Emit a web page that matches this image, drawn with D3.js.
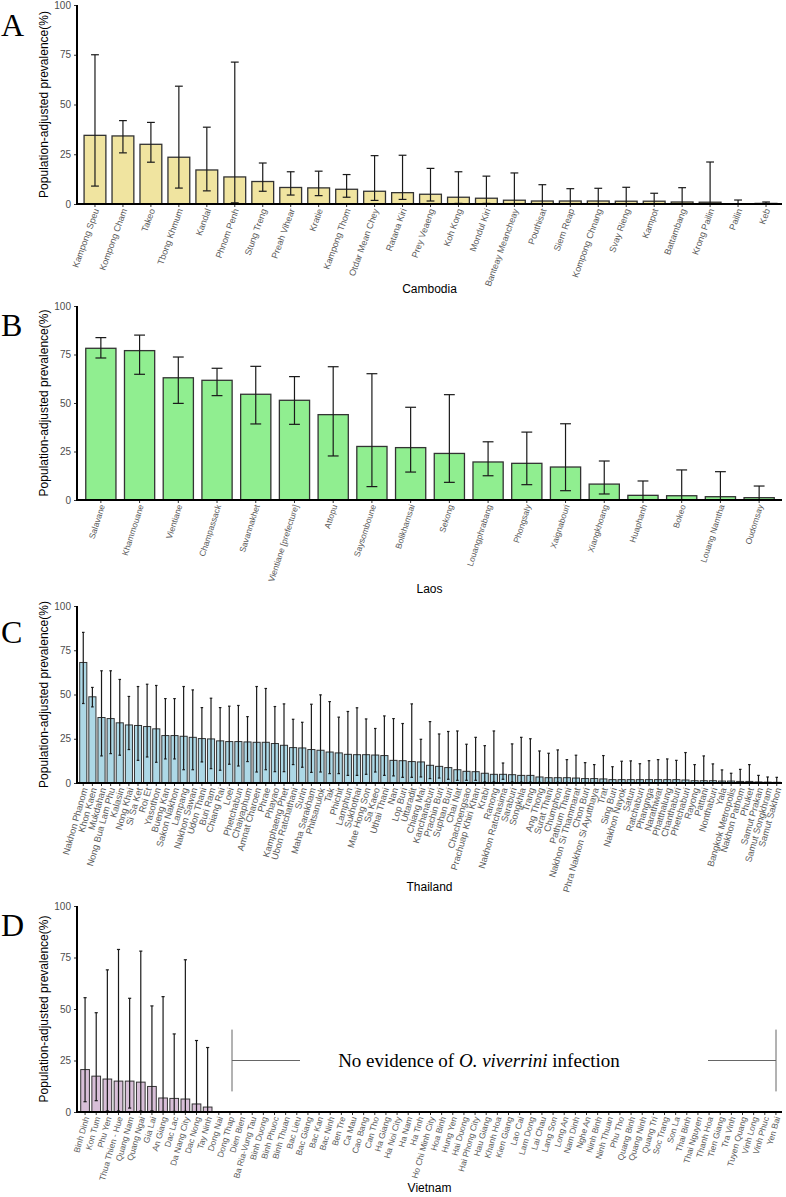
<!DOCTYPE html>
<html>
<head>
<meta charset="utf-8">
<script src="https://cdn.jsdelivr.net/npm/d3@7"></script>
<style>
  html, body { margin: 0; padding: 0; background: #fff; }
  svg { display: block; }
</style>
</head>
<body>
<svg id="chart" width="786" height="1197"></svg>
<script>
// ---------------- DATA ----------------
const yTicks = [0, 25, 50, 75, 100];

const cambodiaProvinces = ["Kampong Speu","Kompong Cham","Takeo","Tbong Khmum","Kandal","Phnom Penh","Stung Treng","Preah Vihear","Kratie","Kampong Thom","Otdar Mean Chey","Ratana Kiri","Prey Veaeng","Koh Kong","Mondul Kiri","Banteay Meancheay","Pouthisat","Siem Reap","Kompong Chnang","Svay Rieng","Kampot","Battambang","Krong Pailin","Pailin","Keb"];
const cambodiaValues = [34.5,34.2,30.0,23.5,17.1,13.6,11.3,8.3,8.1,7.4,6.4,5.7,4.9,3.4,2.9,1.9,1.5,1.5,1.5,1.4,1.4,1.0,0.9,0.0,0.3];
const cambodiaLower  = [9.0,25.7,21.0,8.0,6.6,0.6,6.4,4.5,4.2,3.4,1.8,2.3,1.5,0.3,0.3,0.1,0.1,0.1,0.1,0.1,0.1,0.1,0.1,0.0,0.1];
const cambodiaUpper  = [75.0,41.9,41.0,59.2,38.6,71.3,20.6,16.2,16.5,14.8,24.3,24.5,17.9,16.2,14.0,15.6,9.7,7.7,7.9,8.4,5.4,8.2,21.1,2.0,1.0];

const laosProvinces = ["Salavane","Khammouane","Vientiane","Champassack","Savannakhet","Vientiane [prefecture]","Attopu","Saysomboune","Bolikhamsai","Sekong","Louangphrabang","Phongsaly","Xaignabouri","Xiangkhoang","Huaphanh","Bokeo","Louang Namtha","Oudomsay"];
const laosValues = [78.2,77.0,63.0,61.7,54.5,51.4,44.0,27.6,27.0,24.0,19.6,18.9,17.0,8.2,2.4,2.2,1.7,1.2];
const laosLower  = [73.2,64.8,49.8,53.8,39.2,39.0,22.7,6.9,14.4,9.1,12.5,7.9,4.8,3.1,0.2,0.1,0.1,0.1];
const laosUpper  = [83.7,85.0,73.7,67.9,68.9,63.6,68.7,65.1,47.8,54.3,30.0,35.0,39.3,20.1,9.8,15.5,14.6,7.2];

const thailandProvinces = ["Nakhon Phanom","Khon Kaen","Mukdahan","Nong Bua Lam Phu","Kalasin","Nong Khai","Si Sa Ket","Roi Et","Yasothon","Bueng Kan","Sakon Nakhon","Lampang","Nakhon Sawan","Udon Thani","Buri Ram","Chiang Rai","Loei","Phetchabun","Chaiyaphum","Amnat Charoen","Phrae","Phayao","Kamphaeng Phet","Ubon Ratchathani","Surin","Maha Sarakham","Phitsanulok","Tak","Phichit","Lamphun","Sukhothai","Mae Hong Son","Sa Kaeo","Uthai Thani","Nan","Lop Buri","Uttaradit","Chiang Mai","Kanchanaburi","Prachin Buri","Suphan Buri","Chai Nat","Chachoengsao","Prachuap Khiri Khan","Krabi","Ranong","Nakhon Ratchasima","Saraburi","Songkhla","Trang","Ang Thong","Surat Thani","Chumphon","Pathum Thani","Nakhon Si Thammarat","Chon Buri","Phra Nakhon Si Ayutthaya","Trat","Sing Buri","Nakhon Nayok","Satun","Ratchaburi","Phangnga","Narathiwat","Phatthalung","Chanthaburi","Phetchaburi","Rayong","Pattani","Nonthaburi","Yala","Bangkok Metropolis","Nakhon Pathom","Phuket","Samut Prakan","Samut Songkhram","Samut Sakhon"];
const thailandValues = [68.1,48.7,37.0,36.4,34.0,32.8,32.5,31.9,30.6,26.8,26.8,26.4,25.8,25.1,24.9,23.8,23.4,23.4,23.2,23.0,23.0,22.3,21.3,20.0,19.8,18.9,18.5,17.5,17.0,16.2,16.0,16.0,15.8,15.5,12.8,12.6,12.1,11.9,10.0,9.4,8.7,7.5,6.6,6.4,5.5,4.9,4.9,4.7,4.3,4.3,3.4,3.0,3.0,3.0,2.8,2.5,2.5,2.3,1.9,1.9,1.9,1.9,1.9,1.9,1.9,1.9,1.7,1.3,1.3,1.3,1.1,1.1,0.9,0.9,0.6,0.5,0.4];
const thailandLower  = [44.9,43.0,15.3,16.6,15.7,18.9,12.8,14.7,11.7,13.6,13.6,7.5,7.5,11.9,8.1,7.2,10.6,9.6,12.1,6.2,7.5,6.4,6.4,10.4,8.9,6.0,6.2,5.3,5.3,4.3,4.3,4.9,6.2,4.3,4.0,3.2,3.2,3.4,2.5,2.8,2.1,1.5,1.5,1.5,0.6,0.6,2.1,0.6,0.5,0.5,0.4,0.4,0.4,0.3,0.3,0.3,0.3,0.3,0.2,0.2,0.2,0.2,0.2,0.2,0.2,0.2,0.2,0.1,0.1,0.1,0.1,0.1,0.1,0.1,0.1,0.1,0.1];
const thailandUpper  = [85.1,54.0,63.4,63.4,58.5,48.9,54.5,55.8,55.1,47.7,47.7,54.5,52.6,42.6,47.9,42.6,43.4,43.8,37.5,54.5,53.4,43.2,44.7,36.0,34.3,44.5,49.8,46.0,37.2,40.4,42.5,36.2,30.8,37.9,36.4,33.6,44.7,24.7,34.7,27.7,29.1,29.4,21.9,25.8,21.1,29.4,11.3,22.1,25.8,25.0,18.1,16.8,18.7,13.2,15.7,11.5,10.4,15.5,9.2,12.3,12.5,10.9,12.6,13.2,13.6,12.8,17.2,10.4,15.3,10.8,7.4,5.5,7.7,10.4,4.3,3.4,3.2];

const vietnamProvinces = ["Binh Dinh","Kon Tum","Phu Yen","Thua Thien - Hue","Quang Nam","Quang Ngai","Gia Lai","An Giang","Dac Lac","Da Nang City","Dac Nong","Tay Ninh","Dong Nai","Dong Thap","Dien Bien","Ba Ria-Vung Tau","Binh Duong","Binh Phuoc","Binh Thuan","Bac Lieu","Bac Giang","Bac Kan","Bac Ninh","Ben Tre","Ca Mau","Cao Bang","Can Tho","Ha Giang","Ha Noi City","Ha Nam","Ha Tinh","Ho Chi Minh City","Hoa Binh","Hung Yen","Hai Duong","Hai Phong City","Hau Giang","Khanh Hoa","Kien Giang","Lao Cai","Lam Dong","Lai Chau","Lang Son","Long An","Nam Dinh","Nghe An","Ninh Binh","Ninh Thuan","Phu Tho","Quang Binh","Quang Ninh","Quang Tri","Soc Trang","Son La","Thai Binh","Thai Nguyen","Thanh Hoa","Tien Giang","Tra Vinh","Tuyen Quang","Vinh Long","Vinh Phuc","Yen Bai"];
const vietnamValues = [20.6,17.4,16.0,15.0,15.0,14.5,12.4,6.8,6.6,6.3,3.9,2.4,0,0,0,0,0,0,0,0,0,0,0,0,0,0,0,0,0,0,0,0,0,0,0,0,0,0,0,0,0,0,0,0,0,0,0,0,0,0,0,0,0,0,0,0,0,0,0,0,0,0,0];
const vietnamLower  = [5.0,5.5,0.5,0.5,1.9,0.5,0.6,0.3,0.3,0.3,0.2,0.2,null,null,null,null,null,null,null,null,null,null,null,null,null,null,null,null,null,null,null,null,null,null,null,null,null,null,null,null,null,null,null,null,null,null,null,null,null,null,null,null,null,null,null,null,null,null,null,null,null,null,null];
const vietnamUpper  = [55.5,48.2,69.0,78.9,55.2,78.1,51.5,56.0,37.9,73.9,34.7,31.3,null,null,null,null,null,null,null,null,null,null,null,null,null,null,null,null,null,null,null,null,null,null,null,null,null,null,null,null,null,null,null,null,null,null,null,null,null,null,null,null,null,null,null,null,null,null,null,null,null,null,null];

const panelLetters = ["A","B","C","D"];
const countryTitles = ["Cambodia","Laos","Thailand","Vietnam"];
const barColors = ["#F0E4A0","#90EE90","#ADD8E6","#D8BFD8"];
const yAxisTitle = "Population-adjusted prevalence(%)";

// ---------------- DRAW ----------------
const svg = d3.select("#chart");

const panels = [
  {names: cambodiaProvinces, vals: cambodiaValues, lo: cambodiaLower, hi: cambodiaUpper, top: 5, bottom: 204, xr: [81, 780], fs: 9, rot: -70, titleY: 293, letterY: 36},
  {names: laosProvinces, vals: laosValues, lo: laosLower, hi: laosUpper, top: 306, bottom: 500, xr: [81.5, 778.5], fs: 8.5, rot: -72, titleY: 593, letterY: 336},
  {names: thailandProvinces, vals: thailandValues, lo: thailandLower, hi: thailandUpper, top: 606, bottom: 783, xr: [78.7, 781.3], fs: 9.3, rot: -74, titleY: 891, letterY: 643},
  {names: vietnamProvinces, vals: vietnamValues, lo: vietnamLower, hi: vietnamUpper, top: 906, bottom: 1112, xr: [79.5, 781.5], fs: 8.5, rot: -74, titleY: 1192, letterY: 936}
];

const axisLeft = 77, axisRight = 782;

panels.forEach((p, i) => {
  const g = svg.append("g");
  const x = d3.scaleBand().domain(p.names).range(p.xr).paddingInner(0.22).paddingOuter(0.11);
  const y = d3.scaleLinear().domain([0, 100]).range([p.bottom, p.top]);
  const step = x.step();
  const cap = step * 0.28;

  // bars
  g.selectAll("rect.bar").data(p.names).join("rect")
    .attr("class", "bar")
    .attr("x", d => x(d))
    .attr("width", x.bandwidth())
    .attr("y", (d, j) => y(p.vals[j]))
    .attr("height", (d, j) => y(0) - y(p.vals[j]))
    .attr("fill", barColors[i])
    .attr("stroke", "#333")
    .attr("stroke-width", i === 2 || i === 3 ? 1 : 1.3);

  // error bars
  const eb = p.names.map((d, j) => ({name: d, lo: p.lo[j], hi: p.hi[j]})).filter(e => e.hi != null);
  const eg = g.append("g").attr("stroke", "#1a1a1a").attr("stroke-width", 1.2).attr("fill", "none");
  eg.selectAll("line.v").data(eb).join("line")
    .attr("x1", e => x(e.name) + x.bandwidth() / 2)
    .attr("x2", e => x(e.name) + x.bandwidth() / 2)
    .attr("y1", e => y(e.lo)).attr("y2", e => y(e.hi));
  eg.selectAll("line.t").data(eb).join("line")
    .attr("x1", e => x(e.name) + x.bandwidth() / 2 - cap / 2)
    .attr("x2", e => x(e.name) + x.bandwidth() / 2 + cap / 2)
    .attr("y1", e => y(e.hi)).attr("y2", e => y(e.hi));
  eg.selectAll("line.b").data(eb).join("line")
    .attr("x1", e => x(e.name) + x.bandwidth() / 2 - cap / 2)
    .attr("x2", e => x(e.name) + x.bandwidth() / 2 + cap / 2)
    .attr("y1", e => y(e.lo)).attr("y2", e => y(e.lo));

  // y axis
  const ya = g.append("g").attr("transform", `translate(${axisLeft},0)`)
    .call(d3.axisLeft(y).tickValues(yTicks).tickSize(3).tickPadding(3));
  ya.select(".domain").remove();
  ya.selectAll("text").attr("font-family", "Arial, 'Liberation Sans', sans-serif").attr("font-size", 10).attr("fill", "#4d4d4d");
  ya.selectAll("line").attr("stroke", "#333");
  g.append("line").attr("x1", axisLeft).attr("x2", axisLeft).attr("y1", p.top).attr("y2", p.bottom + 1)
    .attr("stroke", "#000").attr("stroke-width", 2);

  // x axis
  const xa = g.append("g").attr("transform", `translate(0,${p.bottom})`)
    .call(d3.axisBottom(x).tickSize(3).tickPadding(2));
  xa.select(".domain").remove();
  xa.selectAll("line").attr("stroke", "#333");
  xa.selectAll("text")
    .attr("font-family", "Arial, 'Liberation Sans', sans-serif")
    .attr("font-size", p.fs)
    .attr("fill", "#5a5a5a")
    .attr("text-anchor", "end")
    .attr("dy", "0.35em")
    .attr("transform", `translate(2,3) rotate(${p.rot})`)
    .attr("y", 0).attr("x", -2);
  g.append("line").attr("x1", axisLeft - 1).attr("x2", axisRight).attr("y1", p.bottom).attr("y2", p.bottom)
    .attr("stroke", "#000").attr("stroke-width", 2.2);

  // axis titles
  g.append("text")
    .attr("transform", `translate(48,${(p.top + p.bottom) / 2}) rotate(-90)`)
    .attr("text-anchor", "middle")
    .attr("font-family", "Arial, 'Liberation Sans', sans-serif")
    .attr("font-size", 12)
    .attr("fill", "#000")
    .text(yAxisTitle);
  g.append("text")
    .attr("x", (axisLeft + axisRight) / 2).attr("y", p.titleY)
    .attr("text-anchor", "middle")
    .attr("font-family", "Arial, 'Liberation Sans', sans-serif")
    .attr("font-size", 12)
    .attr("fill", "#000")
    .text(countryTitles[i]);

  // panel letter
  g.append("text")
    .attr("x", 1).attr("y", p.letterY)
    .attr("font-family", "'Liberation Serif', 'Times New Roman', serif")
    .attr("font-size", 32)
    .attr("fill", "#000")
    .text(panelLetters[i]);

  // annotation for Vietnam
  if (i === 3) {
    const yMid = y(25);
    const ag = g.append("g").attr("stroke", "#666").attr("stroke-width", 1);
    ag.append("line").attr("x1", 232).attr("x2", 232).attr("y1", y(40)).attr("y2", y(10));
    ag.append("line").attr("x1", 232).attr("x2", 300).attr("y1", yMid).attr("y2", yMid);
    ag.append("line").attr("x1", 708).attr("x2", 776).attr("y1", yMid).attr("y2", yMid);
    ag.append("line").attr("x1", 776).attr("x2", 776).attr("y1", y(40)).attr("y2", y(10));
    const t = g.append("text")
      .attr("x", 479).attr("y", yMid + 6)
      .attr("text-anchor", "middle")
      .attr("font-family", "'Liberation Serif', 'Times New Roman', serif")
      .attr("font-size", 19)
      .attr("fill", "#000");
    t.append("tspan").text("No evidence of ");
    t.append("tspan").attr("font-style", "italic").text("O. viverrini");
    t.append("tspan").text(" infection");
  }
});
</script>
</body>
</html>
